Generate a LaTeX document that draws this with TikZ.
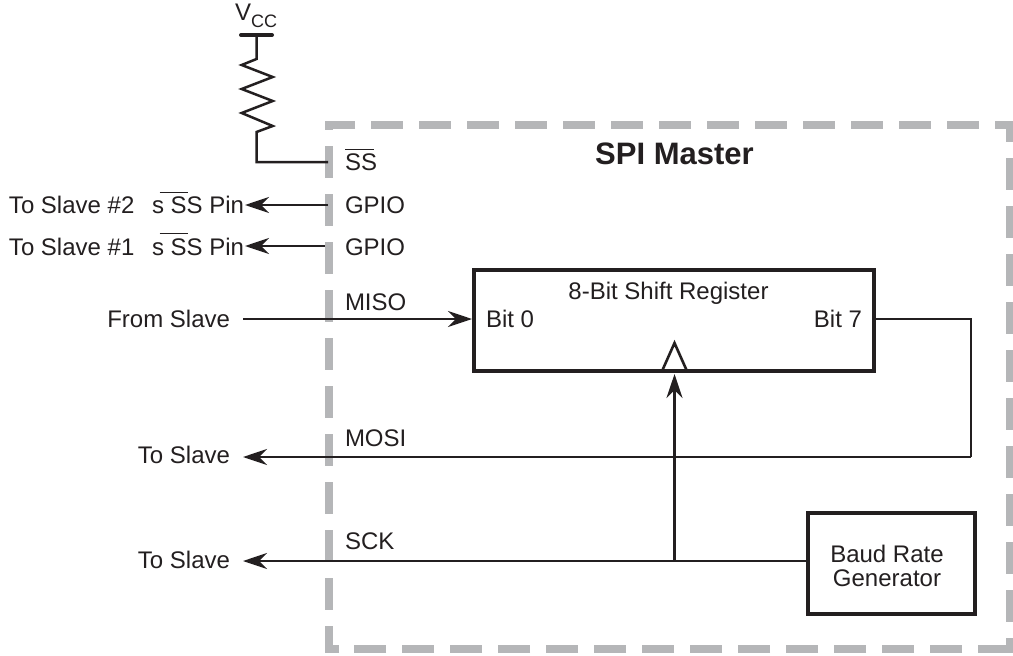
\documentclass[tikz,border=0pt]{standalone}
\usepackage{fontspec}
\setmainfont{Liberation Sans}
\usetikzlibrary{arrows.meta}
\definecolor{ink}{HTML}{231F20}
\definecolor{dashgray}{HTML}{B5B6B8}
\tikzset{
  x=1pt,y=-1pt,
  lbl/.style={inner sep=0pt,outer sep=0pt,text=ink,font=\fontsize{24}{24.5}\selectfont},
  wire/.style={draw=ink,line width=2.5pt},
  boxthick/.style={draw=ink,line width=4pt,inner sep=0pt,outer sep=0pt},
  arr/.style={wire,-{Stealth[length=24pt,width=16pt,inset=8pt]}},
  bound/.style={dashgray,line width=8pt},
  bdash/.style={bound,dash pattern=on 32pt off 16pt},
  thinover/.style={draw=ink,line width=1pt},
}
\begin{document}
\begin{tikzpicture}
\useasboundingbox (0,0) rectangle (1013,656);
\fill[white] (0,0) rectangle (1013,656);
% boundary
\draw[bound] (355,125) -- (329,125) -- (329,130);
\draw[bdash] (371,125) -- (979,125);
\draw[bound] (995,125) -- (1009.5,125) -- (1009.5,142);
\draw[bdash] (1009.5,158) -- (1009.5,622);
\draw[bound] (1009.5,638) -- (1009.5,649) -- (978,649);
\draw[bdash] (962,649) -- (354,649);
\draw[bound] (339,649) -- (329,649) -- (329,626);
\draw[bdash] (329,146) -- (329,610);
% labels
\node[lbl,anchor=base west] (vcc) at (235,20) {V\raisebox{-7pt}{\fontsize{18}{18}\selectfont CC}};
\coordinate (railL) at (241,35); \coordinate (railR) at (272,35);
\coordinate (vtop) at (256.5,35);
\coordinate (rbot) at (256.5,162);
\coordinate (pinss) at (328,162);
\draw[draw=ink,line width=4pt,line cap=round] (railL) -- (railR);
\draw[wire,line join=miter] (vtop) -- (256.5,59) -- (241.7,65) -- (272.7,77) -- (241.7,89) -- (272.7,101) -- (241.7,113) -- (272.7,126) -- (256.5,132) -- (rbot) -- (pinss);
\node[lbl,anchor=base west] (ss) at (345,170) {SS};
\draw[thinover] (345,149) -- (374,149);
\node[lbl,anchor=base west] (g2) at (345,213) {GPIO};
\node[lbl,anchor=base west] (g1) at (345,255) {GPIO};
\node[lbl,anchor=base west] (miso) at (345,310) {MISO};
\node[lbl,anchor=base west] (mosi) at (345,446) {MOSI};
\node[lbl,anchor=base west] (sck) at (345,549) {SCK};
\node[lbl,anchor=base west] (t2) at (9,213) {To Slave \#2};
\node[lbl,anchor=base west] (t1) at (9,255) {To Slave \#1};
\node[lbl,anchor=base west] (p2) at (152,213) {s SS Pin};
\node[lbl,anchor=base west] (p1) at (152,255) {s SS Pin};
\draw[thinover] (159.5,192) -- (188,192);
\draw[thinover] (159.5,233) -- (188,233);
\node[lbl,anchor=base east] (fs) at (230,327) {From Slave};
\node[lbl,anchor=base east] (tm) at (230,463) {To Slave};
\node[lbl,anchor=base east] (ts) at (230,568) {To Slave};
\node[lbl,anchor=base] (spi) at (674.5,164) {\fontsize{31}{31}\selectfont\bfseries SPI Master};
% shift register
\node[boxthick,minimum width=400pt,minimum height=101pt,anchor=north west] (sr) at (474,270) {};
\node[lbl,anchor=base] (srl) at (668.5,299) {8-Bit Shift Register};
\node[lbl,anchor=base west] (b0) at (486,327) {Bit 0};
\node[lbl,anchor=base east] (b7) at (862,327) {Bit 7};
\draw[draw=ink,line width=2.6pt,line join=miter] (662.5,370) -- (674.5,343) -- (686.5,370);
% baud
\node[boxthick,minimum width=167pt,minimum height=101.5pt,anchor=north west] (brg) at (808,512.5) {};
\node[lbl,align=center,anchor=center] (brgl) at (887,566) {Baud Rate\\Generator};
% wires
\coordinate (g2p) at (328,205); \coordinate (g1p) at (325,246);
\coordinate (mi) at (243,319); \coordinate (mop) at (971,457);
\coordinate (moe) at (243,457); \coordinate (ske) at (243,561);
\coordinate (clk) at (674.5,561); \coordinate (clkt) at (674.5,374);
\draw[arr] (g2p) -- (245,205);
\draw[arr] (g1p) -- (245,246);
\draw[arr] (mi) -- (472,319);
\draw[wire,line join=miter] (sr.east |- mi) -- (971,319) -- (mop);
\draw[arr] (mop) -- (moe);
\draw[arr] (brg.west |- clk) -- (ske);
\draw[arr] (clk) -- (clkt);
\end{tikzpicture}
\end{document}
